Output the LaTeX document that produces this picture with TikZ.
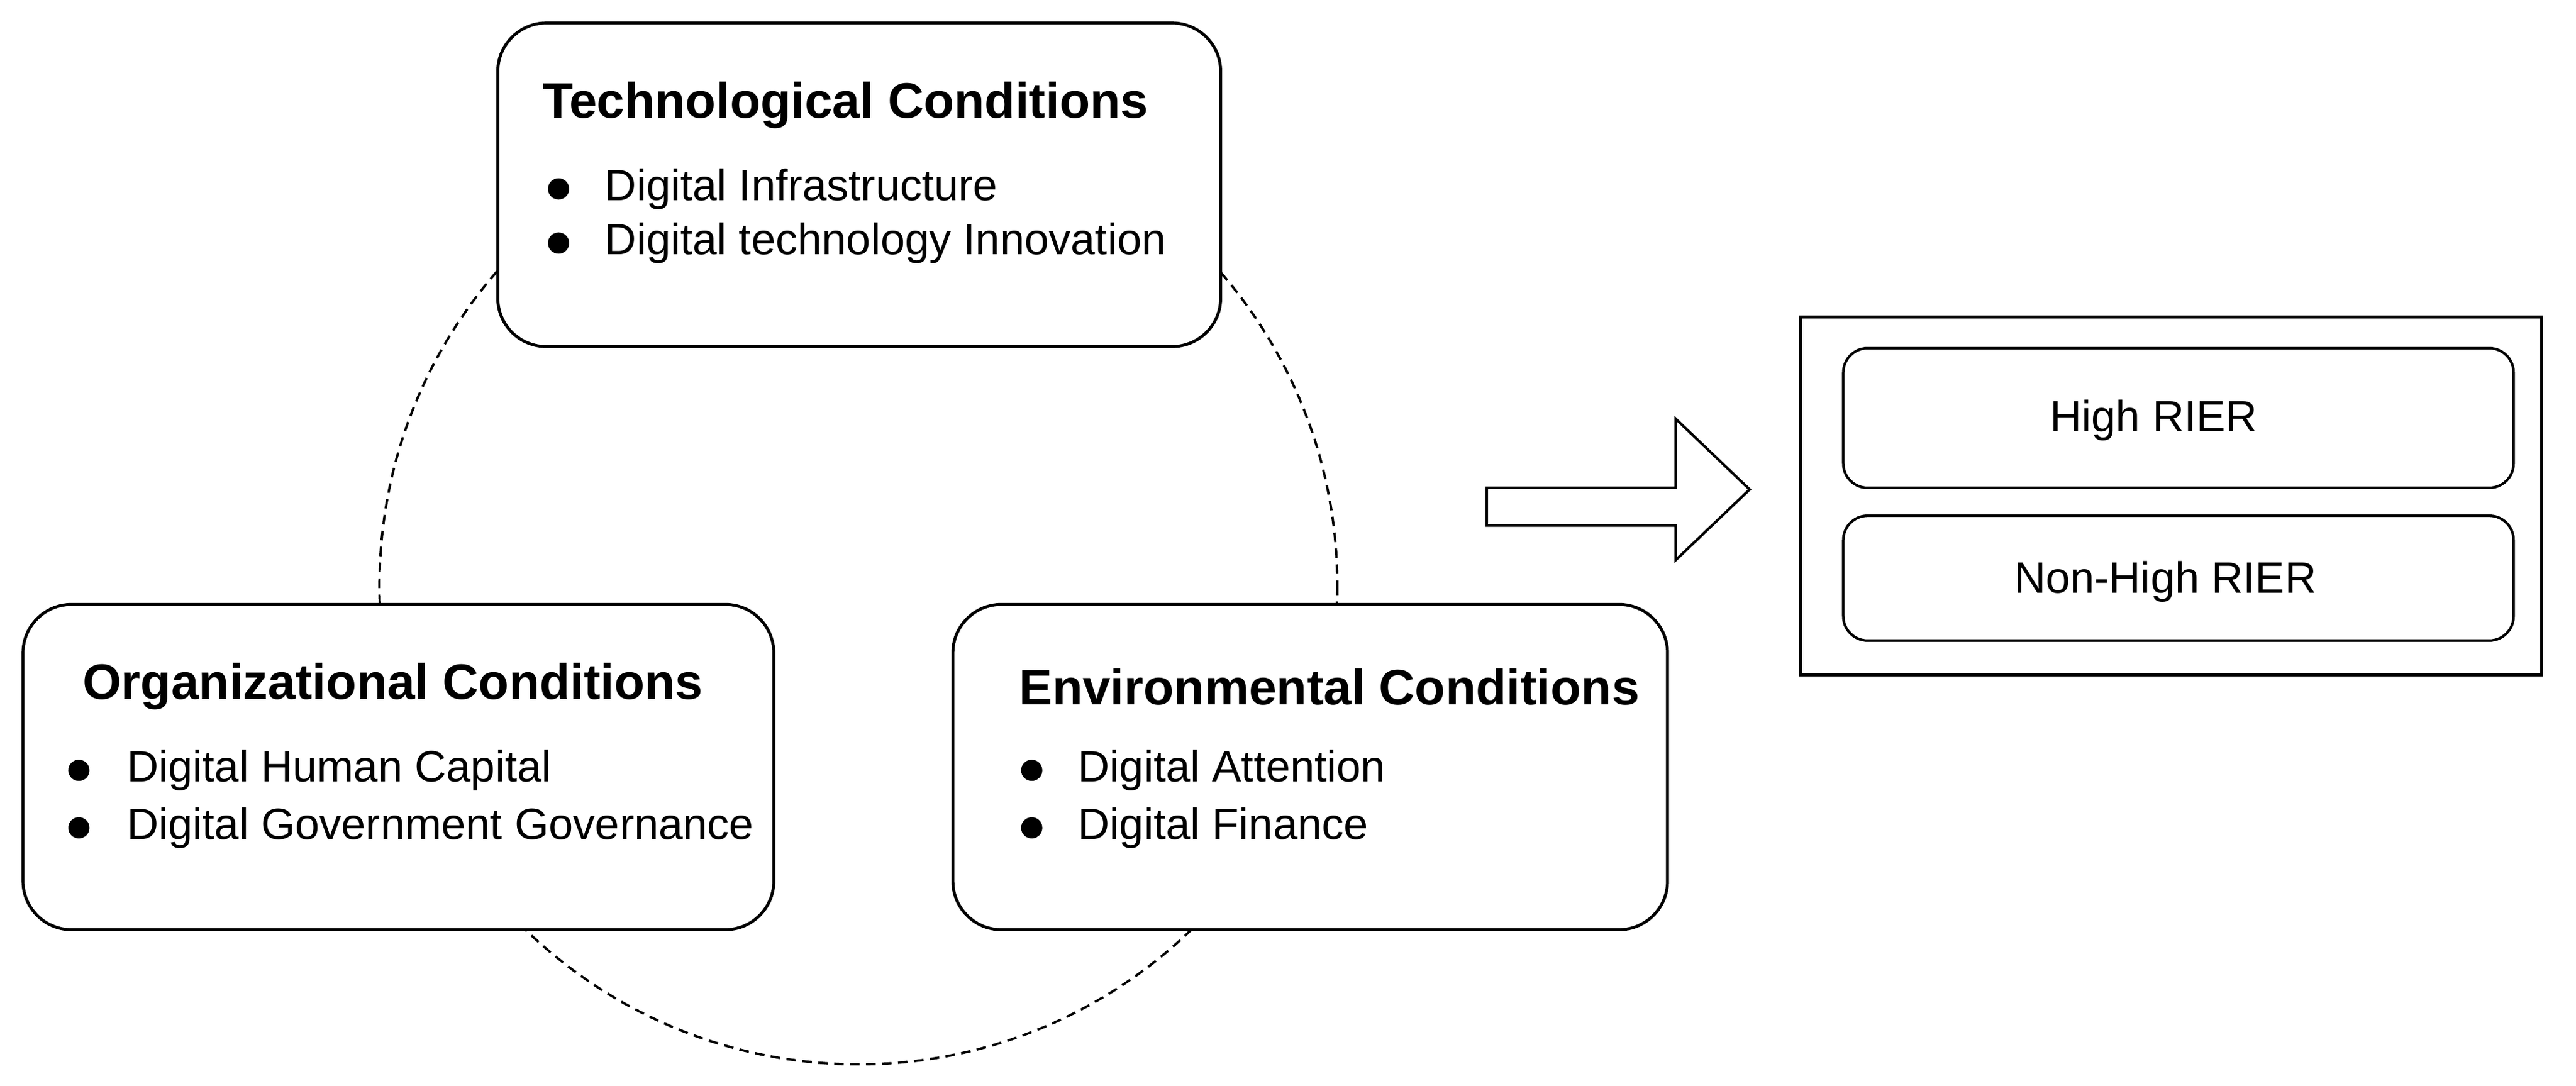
\documentclass[tikz,border=0pt]{standalone}
\usepackage{fontspec}
\setmainfont{Liberation Sans}
\begin{document}
\begin{tikzpicture}[x=0.0271cm,y=-0.0271cm,
  box/.style={draw,line width=1.4pt,fill=white,rounded corners=0.8cm},
  sbox/.style={draw,line width=1.2pt,fill=white,rounded corners=0.4cm},
  ttl/.style={anchor=west,inner sep=0,font=\fontsize{23.4}{27}\selectfont\bfseries},
  itm/.style={anchor=west,inner sep=0,font=\fontsize{20.6}{24}\selectfont},
  dot/.style={circle,fill=black,inner sep=0,minimum size=0.35cm}]
\useasboundingbox (0,0) rectangle (1568,661);
\draw[dash pattern=on 4.5pt off 3pt,line width=1.1pt] (522.5,356.5) circle (291.5);
% boxes
\draw[box] (303,14) rectangle (743,211);
\draw[box] (14,368) rectangle (471,566);
\draw[box] (580,368) rectangle (1015,566);
\node[ttl] (t1) at (330,64) {Technological Conditions};
\node[dot] (d1) at (340,115) {}; \node[itm] (i1) at (368,115) {Digital Infrastructure};
\node[dot] (d2) at (340,148) {}; \node[itm] (i2) at (368,148) {Digital technology Innovation};
\node[ttl] (t2) at (50,418) {Organizational Conditions};
\node[dot] (d3) at (48,469) {}; \node[itm] (i3) at (77,469) {Digital Human Capital};
\node[dot] (d4) at (48,504) {}; \node[itm] (i4) at (77,504) {Digital Government Governance};
\node[ttl] (t3) at (620,418) {Environmental Conditions};
\node[dot] (d5) at (628,469) {}; \node[itm] (i5) at (656,469) {Digital Attention};
\node[dot] (d6) at (628,504) {}; \node[itm] (i6) at (656,504) {Digital Finance};
% block arrow
\draw[line width=1.2pt,fill=white] (905,297) -- (1020,297) -- (1020,255) -- (1065,298) -- (1020,341) -- (1020,320) -- (905,320) -- cycle;
% outcome
\draw[line width=1.4pt] (1096,193) rectangle (1547,411);
\draw[sbox] (1122,212) rectangle (1530,297);
\draw[sbox] (1122,314) rectangle (1530,390);
\node[itm,anchor=center] (h) at (1311,256) {High RIER};
\node[itm,anchor=center] (n) at (1318,354) {Non-High RIER};
\end{tikzpicture}
\end{document}
